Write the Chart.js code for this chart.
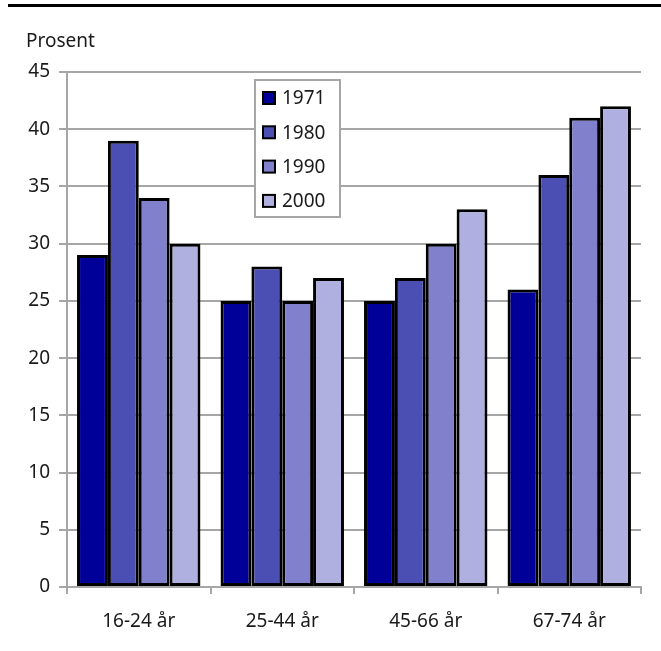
<!DOCTYPE html>
<html>
<head>
<meta charset="utf-8">
<script src="https://cdn.jsdelivr.net/npm/chart.js@4/dist/chart.umd.min.js"></script>
<style>
  html, body { margin: 0; padding: 0; background: #fff; }
  #wrap { width: 661px; height: 651px; position: relative; }
</style>
</head>
<body>
<div id="wrap"><canvas id="c" width="661" height="651"></canvas></div>
<script>
const categories = ['16-24 år', '25-44 år', '45-66 år', '67-74 år'];
const seriesNames = ['1971', '1980', '1990', '2000'];
const v1971 = [29, 25, 25, 26];
const v1980 = [39, 28, 27, 36];
const v1990 = [34, 25, 30, 41];
const v2000 = [30, 27, 33, 42];
const yTicks = [0, 5, 10, 15, 20, 25, 30, 35, 40, 45];
const colors = ['#000099', '#4b4fb4', '#8080cc', '#b0b0e0'];

const FONT = '"Noto Sans", "Open Sans", sans-serif';
const FSIZE = 19;
const TEXT = '#1a1a1a';
const GRID = '#a6a6a6';

const seriesValues = [v1971, v1980, v1990, v2000];

// Header rule, unit label and the boxed legend inside the plot
const decorations = {
  id: 'decorations',
  afterDraw(chart) {
    const ctx = chart.ctx;
    const area = chart.chartArea;
    ctx.save();
    // rule across the top
    ctx.strokeStyle = '#000';
    ctx.lineWidth = 3;
    ctx.beginPath();
    ctx.moveTo(8, 5.5);
    ctx.lineTo(661, 5.5);
    ctx.stroke();
    // unit label
    ctx.fillStyle = TEXT;
    ctx.font = FSIZE + 'px ' + FONT;
    ctx.textAlign = 'left';
    ctx.textBaseline = 'alphabetic';
    ctx.fillText('Prosent', 26, 47);

    // legend box
    const bx = area.left + 188, by = area.top + 8, bw = 85, bh = 137;
    ctx.fillStyle = '#fff';
    ctx.fillRect(bx, by, bw, bh);
    ctx.strokeStyle = GRID;
    ctx.lineWidth = 2;
    ctx.strokeRect(bx, by, bw, bh);
    chart.data.datasets.forEach((ds, i) => {
      const cy = by + 18 + i * 34.3;
      ctx.fillStyle = ds.backgroundColor;
      ctx.fillRect(bx + 8, cy - 6, 12, 12);
      ctx.strokeStyle = '#000';
      ctx.lineWidth = 2;
      ctx.strokeRect(bx + 8, cy - 6, 12, 12);
      ctx.fillStyle = TEXT;
      ctx.font = FSIZE + 'px ' + FONT;
      ctx.textBaseline = 'middle';
      ctx.fillText(ds.label, bx + 27, cy + 1);
    });
    ctx.restore();
  }
};

new Chart(document.getElementById('c'), {
  type: 'bar',
  data: {
    labels: categories,
    datasets: seriesNames.map((name, i) => ({
      label: name,
      data: seriesValues[i],
      backgroundColor: colors[i],
      borderColor: '#000',
      borderWidth: 3,
      borderSkipped: false,
      barPercentage: 1.0,
      categoryPercentage: 0.86
    }))
  },
  options: {
    responsive: false,
    animation: false,
    devicePixelRatio: 1,
    layout: { padding: { top: 72, right: 20, left: 0, bottom: 0 } },
    plugins: {
      legend: { display: false },
      tooltip: { enabled: false }
    },
    scales: {
      x: {
        offset: true,
        grid: {
          offset: true,
          drawOnChartArea: false,
          drawTicks: true,
          tickLength: 7,
          color: GRID,
          lineWidth: 2
        },
        border: { color: GRID, width: 2 },
        ticks: {
          color: TEXT,
          font: { family: FONT, size: FSIZE },
          padding: 16,
          maxRotation: 0
        },
        afterFit(scale) { scale.height = 64; }
      },
      y: {
        min: 0,
        max: 45,
        afterBuildTicks(scale) { scale.ticks = yTicks.map(v => ({ value: v })); },
        grid: {
          color: GRID,
          lineWidth: 2,
          tickLength: 8,
          drawTicks: true
        },
        border: { color: GRID, width: 2 },
        ticks: {
          color: TEXT,
          font: { family: FONT, size: FSIZE },
          padding: 9
        },
        afterFit(scale) { scale.width = 67; }
      }
    }
  },
  plugins: [decorations]
});
</script>
</body>
</html>
